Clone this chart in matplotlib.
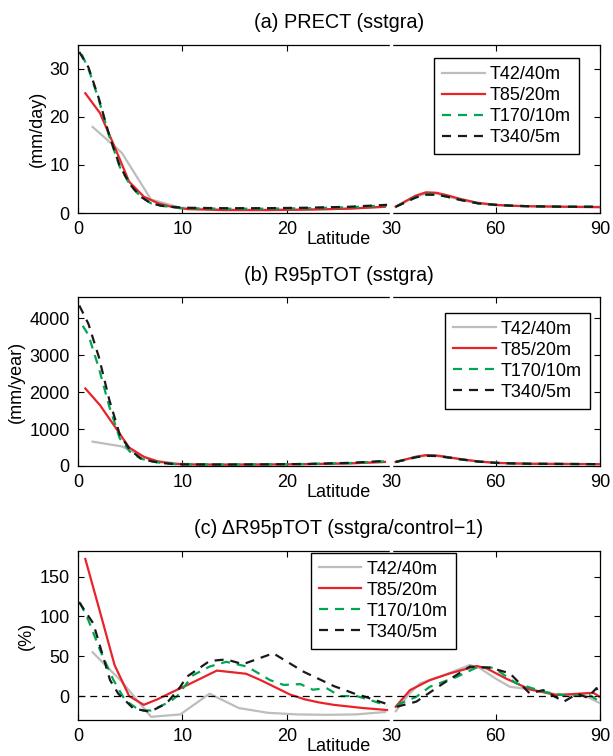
import numpy as np
import matplotlib
matplotlib.use("Agg")
import matplotlib.pyplot as plt

plt.rcParams['font.family'] = ['Liberation Sans', 'DejaVu Sans']
plt.rcParams['lines.scale_dashes'] = False

# ---------------- data ----------------
series_labels = ["T42/40m", "T85/20m", "T170/10m", "T340/5m"]
xtick_vals = [0, 10, 20, 30, 60, 90]

# shared latitudes for the 30-90 segment of panels (a) and (b)
lat_hi = [31.3, 34, 37, 40, 43, 46, 50, 55, 60, 65, 70, 80, 90]

# latitudes for the 0-30 segment
lat_t42 = [1.4, 4.2, 7.0, 9.8, 12.6, 15.4, 18.2, 21.0, 23.8, 26.6, 29.4]
lat_t85_a = [0.7, 2.1, 3.5, 4.9, 6.3, 7.7, 9.1, 10.5, 14, 18, 22, 26, 29.4]
lat_t170_a = [0.35, 1.0, 2.0, 3.0, 4.0, 5.0, 6.0, 7.0, 8.0, 9.0, 10.0, 14, 18, 22, 26, 29.6]
lat_t340_a = [0.12, 1.0, 2.0, 3.0, 4.0, 5.0, 6.0, 7.0, 8.0, 9.0, 10.0, 14, 18, 22, 26, 29.6]

# (a) PRECT (mm/day)
prect_t42_lo = [17.9, 12.5, 2.8, 1.1, 0.8, 0.7, 0.7, 0.7, 0.8, 1.0, 1.3]
prect_t85_lo = [24.9, 20.8, 13.8, 6.5, 3.4, 2.0, 1.2, 0.8, 0.6, 0.6, 0.7, 0.9, 1.3]
prect_t170_lo = [33.0, 30.0, 23.5, 15.9, 9.6, 5.8, 3.4, 2.0, 1.5, 1.2, 1.0, 0.9, 0.9, 1.0, 1.2, 1.6]
prect_t340_lo = [33.5, 30.3, 23.8, 16.1, 9.8, 5.9, 3.4, 2.0, 1.5, 1.3, 1.1, 1.0, 1.0, 1.1, 1.3, 1.7]
prect_t42_hi = [1.3, 2.3, 3.4, 4.0, 4.0, 3.5, 2.7, 2.0, 1.6, 1.5, 1.4, 1.3, 1.3]
prect_t85_hi = [1.3, 2.4, 3.6, 4.3, 4.2, 3.7, 2.9, 2.1, 1.7, 1.5, 1.4, 1.3, 1.2]
prect_t170_hi = [1.3, 2.2, 3.3, 3.9, 3.9, 3.4, 2.7, 2.0, 1.7, 1.5, 1.4, 1.3, 1.3]
prect_t340_hi = [1.3, 2.2, 3.2, 3.8, 3.8, 3.4, 2.7, 2.0, 1.7, 1.5, 1.4, 1.3, 1.3]

# (b) R95pTOT (mm/year)
lat_t170_b = [0.45, 1.0, 2.0, 3.0, 4.0, 5.0, 6.0, 7.0, 8.0, 9.0, 10.0, 14, 18, 22, 26, 29.6]
r95_t42_lo = [660, 530, 150, 60, 45, 45, 45, 50, 60, 80, 110]
r95_t85_lo = [2100, 1650, 1080, 500, 250, 120, 60, 40, 35, 40, 50, 70, 110]
r95_t170_lo = [3800, 3550, 2650, 1610, 750, 380, 200, 130, 80, 55, 45, 40, 45, 55, 80, 130]
r95_t340_lo = [4350, 3850, 2950, 1790, 850, 430, 210, 130, 80, 60, 45, 40, 45, 55, 85, 140]
r95_t42_hi = [110, 170, 240, 275, 270, 235, 180, 120, 85, 70, 60, 55, 50]
r95_t85_hi = [110, 175, 250, 295, 285, 245, 185, 125, 85, 70, 60, 55, 50]
r95_t170_hi = [110, 170, 240, 280, 275, 240, 180, 120, 85, 70, 60, 55, 50]
r95_t340_hi = [110, 165, 235, 275, 270, 235, 180, 120, 85, 70, 60, 55, 50]

# (c) delta R95pTOT (%)
d_t42_lo = [55, 18, -26, -23, 3, -15, -21, -23, -23.5, -23, -20]
lat_t85_c = [0.7, 2.1, 3.5, 4.9, 6.3, 7.7, 9.1, 10.5, 11.9, 13.3, 14.7, 16.1, 17.5,
             18.9, 20.3, 21.7, 23.1, 24.5, 25.9, 27.3, 28.7, 29.6]
d_t85_lo = [172, 106, 39, 0, -11, -3.5, 5.5, 14, 23, 32, 30, 28, 20,
            11, 2, -4, -8, -11, -13, -15, -16.5, -17.5]
lat_t170_c = [0.2, 1.0, 2.1, 3.4, 4.5, 5.9, 7.0, 7.85, 8.8, 9.5, 11.0, 12.6, 14.2,
              16.2, 18.4, 19.7, 21.3, 22.5, 23.8, 25.1, 26.7, 28.0, 29.6]
d_t170_lo = [117, 95, 58, 20, -5, -18, -18, -13, -7, 0, 26, 37, 43,
             37, 20, 14, 15, 8, 10, 0, 0, -5, -12]
lat_t340_c = [0.1, 1.47, 3.07, 3.86, 5.3, 6.9, 8.5, 9.8, 10.4, 12.6, 14.2, 15.8,
              18.7, 21.6, 24.5, 26.7, 27.3, 29.6]
d_t340_lo = [118, 91, 20, 3, -15.5, -19.7, -9, 11.7, 24, 44, 46, 40,
             53.7, 30.6, 12.6, 2, 0, -10]
lat_t42_chi = [31.3, 35, 38.3, 45, 52.6, 55.5, 60, 64.1, 69.8, 77.6, 85.4, 90]
d_t42_hi = [-19, 2, 16, 26, 39, 35, 22, 11.7, 8.4, 2, 1.3, -9]
lat_t85_chi = [31.3, 35.4, 41.1, 46.9, 54.6, 57.4, 63, 69.8, 77.6, 85.4, 88.1, 90]
d_t85_hi = [-13.4, 7.5, 20, 28.5, 37.7, 34.8, 22, 8.4, 1.3, 3.4, 4, -1]
lat_t170_chi = [31.6, 37.2, 41.1, 48.8, 54.6, 59.4, 66, 73.7, 81.2, 87.1, 90]
d_t170_hi = [-11.3, -1, 11.7, 24, 36, 35.6, 16, 5.5, 0, 1, -7]
lat_t340_chi = [31.6, 37.2, 45, 52.6, 58.5, 64.1, 69.8, 73.7, 79.6, 83.5, 86.4, 89, 90]
d_t340_hi = [-13.4, -7, 16, 37, 35.6, 28.5, 3.4, 7.5, -7, 3, -2, 10, 0]

# ---------------- styles ----------------
colors = ['#bdbdbd', '#e8232a', '#00a651', '#1a1a1a']
dash = (0, (6.5, 5))
styles = ['-', '-', dash, dash]
LW = 1.6
FS = 13


def fwd(x):
    x = np.asarray(x, dtype=float)
    return np.where(x <= 30, x, 30 + (x - 30) / 3.0)


def inv(x):
    x = np.asarray(x, dtype=float)
    return np.where(x <= 30, x, 30 + (x - 30) * 3.0)


fig = plt.figure(figsize=(6.13, 7.56), dpi=100)
L, W = 78 / 613, 522 / 613
axes_rects = [
    (L, 1 - 213 / 756, W, (213 - 44.7) / 756),
    (L, 1 - 466 / 756, W, (466 - 297.3) / 756),
    (L, 1 - 720 / 756, W, (720 - 551) / 756),
]

panels = [
    dict(title="(a) PRECT (sstgra)", ylabel="(mm/day)", ylim=(0, 35),
         yticks=[0, 10, 20, 30],
         lo=[(lat_t42, prect_t42_lo), (lat_t85_a, prect_t85_lo),
             (lat_t170_a, prect_t170_lo), (lat_t340_a, prect_t340_lo)],
         hi=[(lat_hi, prect_t42_hi), (lat_hi, prect_t85_hi),
             (lat_hi, prect_t170_hi), (lat_hi, prect_t340_hi)],
         leg=('upper right', (0.960, 0.919)), ylab_x=-0.062),
    dict(title="(b) R95pTOT (sstgra)", ylabel="(mm/year)", ylim=(0, 4570),
         yticks=[0, 1000, 2000, 3000, 4000],
         lo=[(lat_t42, r95_t42_lo), (lat_t85_a, r95_t85_lo),
             (lat_t170_b, r95_t170_lo), (lat_t340_a, r95_t340_lo)],
         hi=[(lat_hi, r95_t42_hi), (lat_hi, r95_t85_hi),
             (lat_hi, r95_t170_hi), (lat_hi, r95_t340_hi)],
         leg=('upper right', (0.981, 0.909)), ylab_x=-0.101),
    dict(title="(c) \u0394R95pTOT (sstgra/control\u22121)", ylabel="(%)", ylim=(-30, 182),
         yticks=[0, 50, 100, 150],
         lo=[(lat_t42, d_t42_lo), (lat_t85_c, d_t85_lo),
             (lat_t170_c, d_t170_lo), (lat_t340_c, d_t340_lo)],
         hi=[(lat_t42_chi, d_t42_hi), (lat_t85_chi, d_t85_hi),
             (lat_t170_chi, d_t170_hi), (lat_t340_chi, d_t340_hi)],
         leg=('upper left', (0.4458, 0.990)), ylab_x=-0.082, zero=True),
]

for rect, p in zip(axes_rects, panels):
    ax = fig.add_axes(rect)
    ax.set_xscale('function', functions=(fwd, inv))
    ax.set_xlim(0, 90)
    ax.set_ylim(*p['ylim'])
    handles = []
    for i in range(4):
        (xl, yl), (xh, yh) = p['lo'][i], p['hi'][i]
        h, = ax.plot(xl, yl, color=colors[i], ls=styles[i], lw=LW, zorder=3 + i,
                     label=series_labels[i])
        ax.plot(xh, yh, color=colors[i], ls=styles[i], lw=LW, zorder=3 + i)
        handles.append(h)
    # white separator at 30
    ax.axvline(30, ymin=-0.01, ymax=1.01, color='white', lw=2.5, zorder=2.7,
               clip_on=False)
    if p.get('zero'):
        ax.axhline(0, color='black', lw=0.9, ls=(0, (5, 3.5)), zorder=8)
    ax.set_xticks(xtick_vals)
    ax.set_xticklabels([str(v) for v in xtick_vals])
    ax.set_yticks(p['yticks'])
    ax.minorticks_off()
    ax.tick_params(direction='in', top=True, right=True, length=4, width=0.8,
                   labelsize=FS)
    ax.tick_params(axis='x', pad=6)
    ax.tick_params(axis='y', pad=6)
    for s in ax.spines.values():
        s.set_linewidth(0.9)
    ax.set_title(p['title'], fontsize=14.3, pad=12)
    ax.set_xlabel("Latitude", fontsize=FS)
    ax.xaxis.set_label_coords(0.5, -0.105)
    ax.xaxis.label.set_va('top')
    ax.set_ylabel(p['ylabel'], fontsize=FS)
    ax.yaxis.set_label_coords(p['ylab_x'], 0.5)
    loc, anchor = p['leg']
    leg = ax.legend(handles=handles, loc=loc, bbox_to_anchor=anchor,
                    borderaxespad=0, fontsize=FS, frameon=True, fancybox=False,
                    edgecolor='black', framealpha=1, handlelength=2.35,
                    handletextpad=0.3, labelspacing=0.22, borderpad=0.45)
    leg.get_frame().set_linewidth(1.0)
    leg.set_zorder(20)

fig.savefig("out.png", dpi=100)
